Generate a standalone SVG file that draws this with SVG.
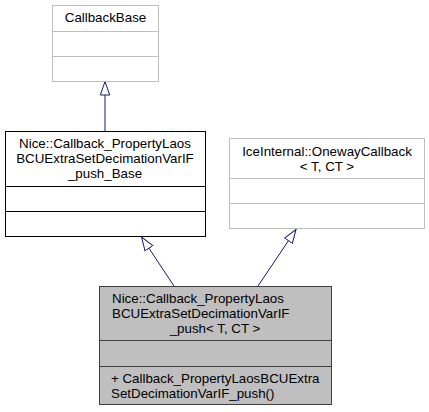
<svg xmlns="http://www.w3.org/2000/svg" width="429" height="412" viewBox="0 0 429 412">
<style>
text{font-family:"Liberation Sans",Arial,sans-serif;font-size:13.33px;fill:#000}
.c{text-anchor:middle}
.ext rect,.ext line{stroke:#bfbfbf;fill:#fff}
.base rect,.base line{stroke:#000;fill:#fff}
.cur rect{stroke:#404040;fill:#bfbfbf}
.cur line{stroke:#404040}
.edge{stroke:#191970;stroke-width:1;fill:none}
</style>
<defs>
<marker id="tri" markerUnits="userSpaceOnUse" markerWidth="16" markerHeight="12" refX="14" refY="5.5" orient="auto" viewBox="0 0 16 11">
<path d="M0.5,0.8 L14,5.5 L0.5,10.2 Z" fill="#fff" stroke="#191970" stroke-width="1"/>
</marker>
</defs>
<rect width="429" height="412" fill="#fff"/>
<g id="connectors">
<line class="edge" x1="105" y1="131" x2="105" y2="81.5" marker-end="url(#tri)"/>
<line class="edge" x1="174" y1="286" x2="141.5" y2="237" marker-end="url(#tri)"/>
<line class="edge" x1="258" y1="286" x2="296" y2="229.5" marker-end="url(#tri)"/>
</g>
<g id="CallbackBase" class="ext">
<rect x="52.5" y="5.5" width="106" height="76"/>
<line x1="52.5" y1="31.5" x2="158.5" y2="31.5"/>
<line x1="52.5" y1="56.5" x2="158.5" y2="56.5"/>
<text class="c" x="105.5" y="22">CallbackBase</text>
</g>
<g id="PushBase" class="base">
<rect x="5.5" y="131.5" width="200" height="105"/>
<line x1="5.5" y1="186.5" x2="205.5" y2="186.5"/>
<line x1="5.5" y1="211.5" x2="205.5" y2="211.5"/>
<text class="c" x="105" y="148">Nice::Callback_PropertyLaos</text>
<text class="c" x="105" y="163">BCUExtraSetDecimationVarIF</text>
<text class="c" x="105" y="178">_push_Base</text>
</g>
<g id="OnewayCallback" class="ext">
<rect x="229.5" y="138.5" width="195" height="90"/>
<line x1="229.5" y1="178.5" x2="424.5" y2="178.5"/>
<line x1="229.5" y1="203.5" x2="424.5" y2="203.5"/>
<text class="c" x="327" y="156">IceInternal::OnewayCallback</text>
<text class="c" x="327" y="171">&lt; T, CT &gt;</text>
</g>
<g id="Push" class="cur">
<rect x="99.5" y="286.5" width="232" height="118"/>
<line x1="99.5" y1="340.5" x2="331.5" y2="340.5"/>
<line x1="99.5" y1="366.5" x2="331.5" y2="366.5"/>
<text x="112" y="303">Nice::Callback_PropertyLaos</text>
<text x="112" y="318">BCUExtraSetDecimationVarIF</text>
<text class="c" x="215" y="333">_push&lt; T, CT &gt;</text>
<text x="111" y="383">+ Callback_PropertyLaosBCUExtra</text>
<text x="111" y="398">SetDecimationVarIF_push()</text>
</g>
</svg>
